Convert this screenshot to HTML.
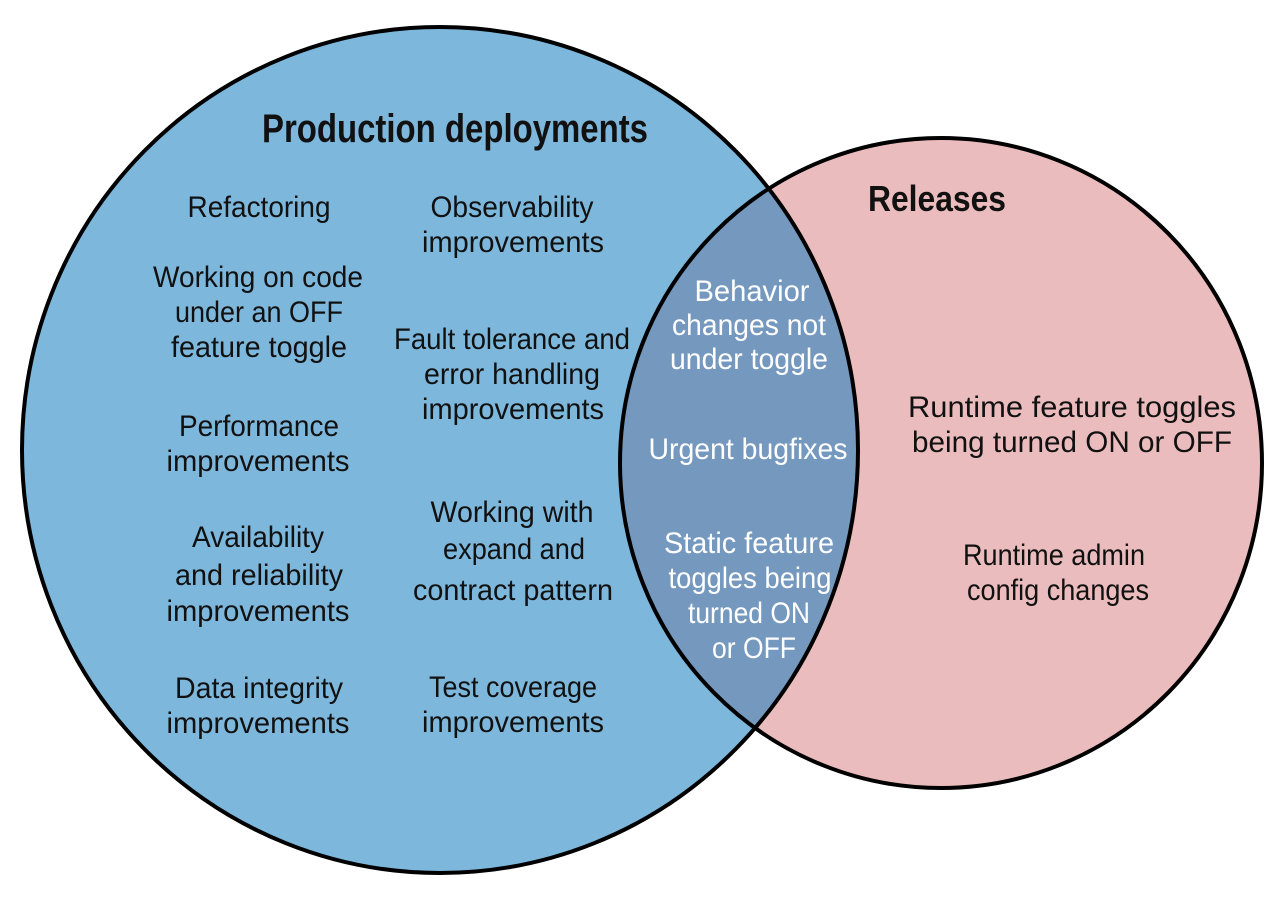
<!DOCTYPE html>
<html><head><meta charset="utf-8"><style>html,body{margin:0;padding:0;background:#fff}svg{display:block}text{font-family:"Liberation Sans Narrow","Liberation Sans",sans-serif;font-size:30px;text-anchor:middle;fill:#111}.w{fill:#fff}</style></head><body>
<svg width="1288" height="916" viewBox="0 0 1288 916" xmlns="http://www.w3.org/2000/svg">
<defs><clipPath id="cb"><ellipse cx="440" cy="450" rx="418" ry="423"/></clipPath></defs>
<ellipse cx="941" cy="463" rx="321" ry="325" fill="#ebbcbd"/>
<ellipse cx="440" cy="450" rx="418" ry="423" fill="#7db7dc"/>
<ellipse cx="941" cy="463" rx="321" ry="325" fill="#7598bf" clip-path="url(#cb)"/>
<ellipse cx="440" cy="450" rx="418" ry="423" fill="none" stroke="#000" stroke-width="4"/>
<ellipse cx="941" cy="463" rx="321" ry="325" fill="none" stroke="#000" stroke-width="4"/>
<text x="455" y="142" style="font-size:40px;font-weight:bold" textLength="386" lengthAdjust="spacingAndGlyphs">Production deployments</text>
<text x="937" y="211" style="font-size:36px;font-weight:bold" textLength="138" lengthAdjust="spacingAndGlyphs">Releases</text>
<g>
<text x="259" y="217" textLength="143" lengthAdjust="spacingAndGlyphs">Refactoring</text>
<text x="258" y="287" textLength="210" lengthAdjust="spacingAndGlyphs">Working on code</text>
<text x="259" y="322" textLength="168" lengthAdjust="spacingAndGlyphs">under an OFF</text>
<text x="259" y="357" textLength="176" lengthAdjust="spacingAndGlyphs">feature toggle</text>
<text x="259" y="436" textLength="160" lengthAdjust="spacingAndGlyphs">Performance</text>
<text x="258" y="471" textLength="183" lengthAdjust="spacingAndGlyphs">improvements</text>
<text x="258" y="547" textLength="132" lengthAdjust="spacingAndGlyphs">Availability</text>
<text x="259" y="585" textLength="168" lengthAdjust="spacingAndGlyphs">and reliability</text>
<text x="258" y="621" textLength="183" lengthAdjust="spacingAndGlyphs">improvements</text>
<text x="259" y="698" textLength="168" lengthAdjust="spacingAndGlyphs">Data integrity</text>
<text x="258" y="733" textLength="183" lengthAdjust="spacingAndGlyphs">improvements</text>
<text x="512" y="217" textLength="163" lengthAdjust="spacingAndGlyphs">Observability</text>
<text x="513" y="252" textLength="182" lengthAdjust="spacingAndGlyphs">improvements</text>
<text x="512" y="349" textLength="236" lengthAdjust="spacingAndGlyphs">Fault tolerance and</text>
<text x="512" y="384" textLength="176" lengthAdjust="spacingAndGlyphs">error handling</text>
<text x="513" y="419" textLength="182" lengthAdjust="spacingAndGlyphs">improvements</text>
<text x="512" y="522" textLength="163" lengthAdjust="spacingAndGlyphs">Working with</text>
<text x="514" y="559" textLength="142" lengthAdjust="spacingAndGlyphs">expand and</text>
<text x="513" y="600" textLength="200" lengthAdjust="spacingAndGlyphs">contract pattern</text>
<text x="513" y="697" textLength="168" lengthAdjust="spacingAndGlyphs">Test coverage</text>
<text x="513" y="732" textLength="182" lengthAdjust="spacingAndGlyphs">improvements</text>
<text class="w" x="752" y="301" textLength="115" lengthAdjust="spacingAndGlyphs">Behavior</text>
<text class="w" x="749" y="335" textLength="154" lengthAdjust="spacingAndGlyphs">changes not</text>
<text class="w" x="749" y="369" textLength="158" lengthAdjust="spacingAndGlyphs">under toggle</text>
<text class="w" x="748" y="459" textLength="199" lengthAdjust="spacingAndGlyphs">Urgent bugfixes</text>
<text class="w" x="749" y="553" textLength="170" lengthAdjust="spacingAndGlyphs">Static feature</text>
<text class="w" x="750" y="588" textLength="163" lengthAdjust="spacingAndGlyphs">toggles being</text>
<text class="w" x="749" y="623" textLength="122" lengthAdjust="spacingAndGlyphs">turned ON</text>
<text class="w" x="754" y="658" textLength="84" lengthAdjust="spacingAndGlyphs">or OFF</text>
<text x="1072" y="417" textLength="328" lengthAdjust="spacingAndGlyphs">Runtime feature toggles</text>
<text x="1072" y="452" textLength="320" lengthAdjust="spacingAndGlyphs">being turned ON or OFF</text>
<text x="1054" y="565" textLength="182" lengthAdjust="spacingAndGlyphs">Runtime admin</text>
<text x="1058" y="600" textLength="182" lengthAdjust="spacingAndGlyphs">config changes</text>
</g>
</svg>
</body></html>
